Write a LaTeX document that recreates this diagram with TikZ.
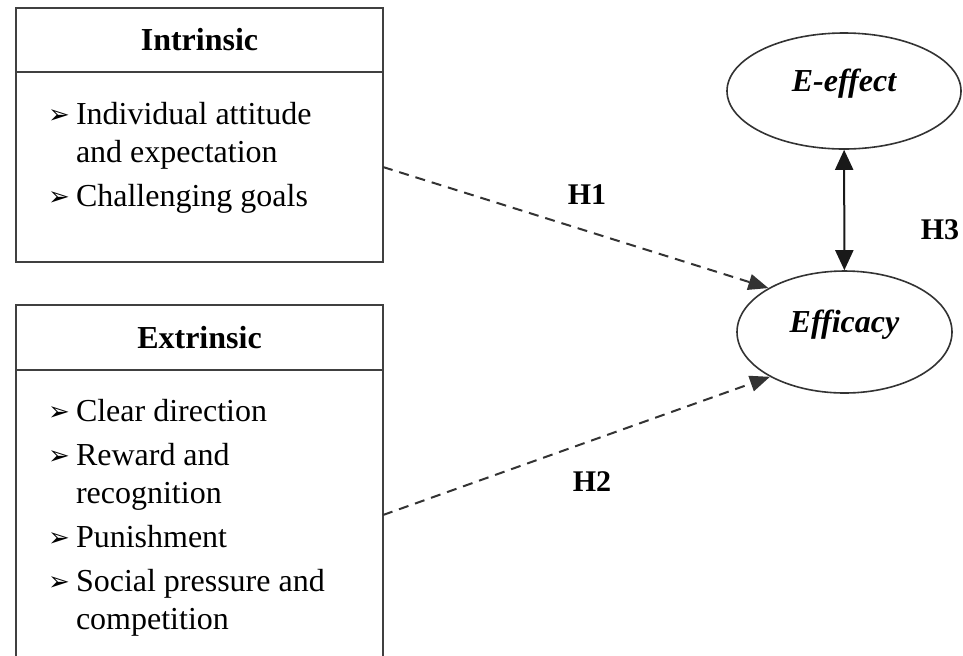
\documentclass[tikz,border=0pt]{standalone}
\usepackage{fontspec}
\setmainfont{Liberation Serif}
\newfontfamily\dingfont{DejaVu Sans}
\usetikzlibrary{positioning,shapes.geometric,arrows.meta}

\newcommand{\bul}{\makebox[14pt][l]{\raisebox{0.3pt}{\fontsize{13}{13}\selectfont\dingfont ➢}}}
\newcommand{\ind}{\hspace*{14pt}}

\begin{document}
\begin{tikzpicture}[x=0.5pt, y=-0.5pt,
    font=\fontsize{16}{19}\selectfont, line width=1pt,
    box/.style={draw=black!75, minimum width=183.5pt, inner sep=0pt, outer sep=0pt},
    list/.style={align=left, inner sep=0pt, anchor=north west},
    latent/.style={ellipse, draw=black!80, line width=0.8pt, inner sep=0pt,
        font=\fontsize{16}{19}\selectfont\bfseries\itshape, text depth=11pt},
    hyp/.style={font=\fontsize{15}{18}\selectfont\bfseries},
    tip/.style={-{Triangle[length=10pt,width=8pt]}},
    dashedpath/.style={draw=black!80, dash pattern=on 5pt off 3.5pt}]
\useasboundingbox (0,0) rectangle (963,655);

% left: intrinsic
\node[box, minimum height=32pt, font=\fontsize{16}{19}\selectfont\bfseries] (intrhead) at (199.5,40) {Intrinsic};
\node[box, minimum height=95pt, below=0pt of intrhead] (intrbody) {};
\node[list] (intrlist) at (47,101) {\bul Individual attitude\\\ind and expectation\\[3pt]\bul Challenging goals};

% left: extrinsic
\node[box, minimum height=32.5pt, font=\fontsize{16}{19}\selectfont\bfseries] (extrhead) at (199.5,337.5) {Extrinsic};
\node[box, minimum height=145pt, below=0pt of extrhead] (extrbody) {};
\node[list] (extrlist) at (47,398) {\bul Clear direction\\[3pt]\bul Reward and\\\ind recognition\\[3pt]\bul Punishment\\[3pt]\bul Social pressure and\\\ind competition};

% right
\node[latent, minimum width=117pt, minimum height=58pt] (eeff) at (844,91) {E-effect};
\node[latent, minimum width=107.5pt, minimum height=61pt] (eff) at (844.5,332) {Efficacy};

\draw[dashedpath, tip] (intrbody.east) -- (eff.150);
\draw[dashedpath, tip] (extrbody.east) -- (eff.211);
\draw[black!90, {Triangle[length=10pt,width=9pt]}-{Triangle[length=10pt,width=9pt]}] (eeff) -- (eff);

\node[hyp] (h1) at (587,195) {H1};
\node[hyp] (h2) at (592,482) {H2};
\node[hyp] (h3) at (940,230) {H3};

\end{tikzpicture}
\end{document}
